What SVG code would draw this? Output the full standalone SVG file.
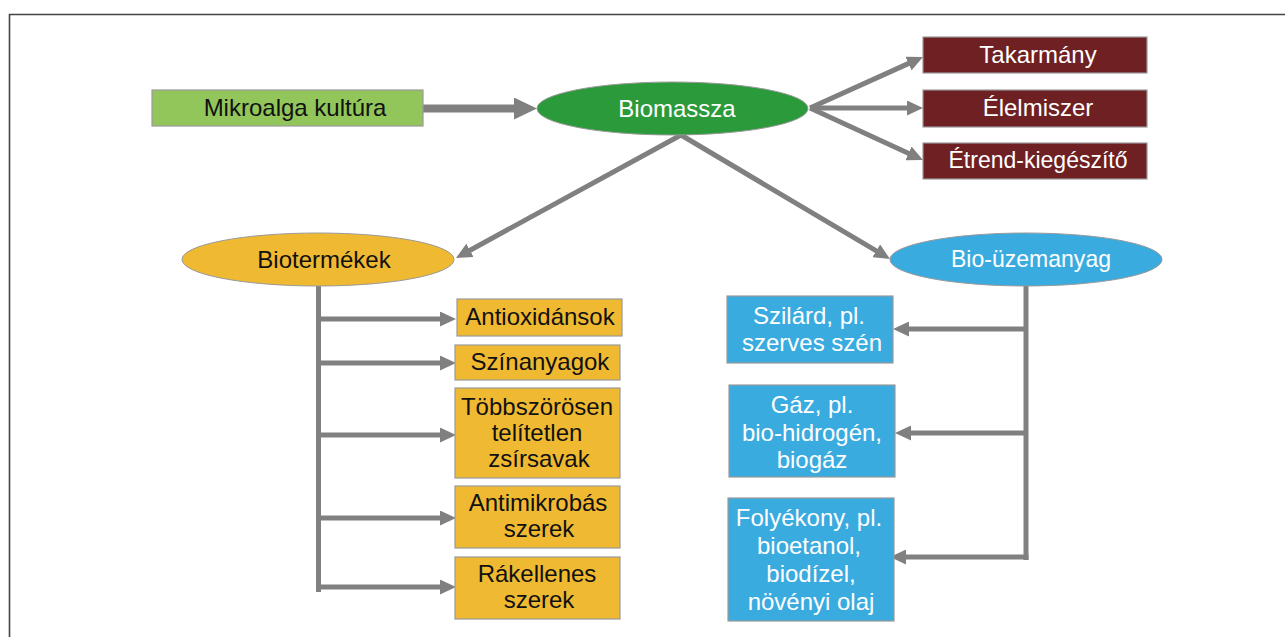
<svg xmlns="http://www.w3.org/2000/svg" width="1285" height="637" viewBox="0 0 1285 637">
<defs>
<style>
text{font-family:"Liberation Sans",Arial,sans-serif;font-size:24px;text-anchor:middle}
.dk{fill:#111}
.wh{fill:#fff}
.box{stroke:#9a9a9a;stroke-width:1.2}
.ell{stroke:#9a9a9a;stroke-width:1}
.ln{stroke:#808080;stroke-width:5;fill:none}
.thick{stroke:#808080;stroke-width:8;fill:none}
</style>
<marker id="ah" markerUnits="userSpaceOnUse" markerWidth="16" markerHeight="15" refX="4" refY="7.5" orient="auto" viewBox="0 0 16 15">
<path d="M0,0 L16,7.5 L0,15 z" fill="#808080"/>
</marker>
<marker id="ahBig" markerUnits="userSpaceOnUse" markerWidth="23" markerHeight="22" refX="6" refY="11" orient="auto" viewBox="0 0 23 22">
<path d="M0,0 L23,11 L0,22 z" fill="#808080"/>
</marker>
</defs>
<rect width="1285" height="637" fill="#fff"/>
<path d="M9.5,637 V14.5 H1285" fill="none" stroke="#444" stroke-width="1.6"/>

<g id="connectors">
<line class="thick" x1="423" y1="108.5" x2="520" y2="108.5" marker-end="url(#ahBig)"/>
<line class="ln" x1="810" y1="108" x2="912.1" y2="61.9" marker-end="url(#ah)"/>
<line class="ln" x1="810" y1="108" x2="911" y2="108" marker-end="url(#ah)"/>
<line class="ln" x1="810" y1="108" x2="912.1" y2="155" marker-end="url(#ah)"/>
<line class="ln" x1="681" y1="135" x2="466.5" y2="252.2" marker-end="url(#ah)"/>
<line class="ln" x1="681" y1="135" x2="879.7" y2="252.9" marker-end="url(#ah)"/>
<line class="ln" x1="318.5" y1="286" x2="318.5" y2="592"/>
<line class="ln" x1="318.5" y1="319" x2="444" y2="319" marker-end="url(#ah)"/>
<line class="ln" x1="318.5" y1="363" x2="444" y2="363" marker-end="url(#ah)"/>
<line class="ln" x1="318.5" y1="435" x2="444" y2="435" marker-end="url(#ah)"/>
<line class="ln" x1="318.5" y1="518" x2="444" y2="518" marker-end="url(#ah)"/>
<line class="ln" x1="316" y1="587" x2="444" y2="587" marker-end="url(#ah)"/>
<line class="ln" x1="1026" y1="286" x2="1026" y2="560"/>
<line class="ln" x1="1026" y1="329" x2="905" y2="329" marker-end="url(#ah)"/>
<line class="ln" x1="1026" y1="433" x2="907" y2="433" marker-end="url(#ah)"/>
<line class="ln" x1="1028.5" y1="557" x2="902" y2="557" marker-end="url(#ah)"/>
</g>

<g id="mikroalga">
<rect class="box" x="152" y="90" width="271" height="36" fill="#92c65a"/>
<text class="dk" x="295" y="116">Mikroalga kultúra</text>
</g>
<g id="biomassza">
<ellipse class="ell" cx="672.5" cy="108.5" rx="135.5" ry="26.5" fill="#2a9a3a"/>
<text class="wh" x="677" y="117">Biomassza</text>
</g>
<g id="takarmany">
<rect class="box" x="923" y="37" width="224" height="36" fill="#6e2023"/>
<text class="wh" x="1038" y="63">Takarmány</text>
</g>
<g id="elelmiszer">
<rect class="box" x="923" y="90" width="224" height="37" fill="#6e2023"/>
<text class="wh" x="1038" y="116">Élelmiszer</text>
</g>
<g id="etrend">
<rect class="box" x="923" y="143" width="224" height="36" fill="#6e2023"/>
<text class="wh" x="1038" y="168" textLength="179" lengthAdjust="spacingAndGlyphs">Étrend-kiegészítő</text>
</g>
<g id="biotermekek">
<ellipse class="ell" cx="318" cy="259.5" rx="136" ry="26.5" fill="#f0b932"/>
<text class="dk" x="324" y="268">Biotermékek</text>
</g>
<g id="biouzemanyag">
<ellipse class="ell" cx="1026" cy="259.5" rx="136" ry="26.5" fill="#3aabdf"/>
<text class="wh" x="1031" y="267" textLength="160" lengthAdjust="spacingAndGlyphs">Bio-üzemanyag</text>
</g>
<g id="antioxidansok">
<rect class="box" x="457" y="299" width="165" height="37" fill="#f0b932"/>
<text class="dk" x="540" y="325">Antioxidánsok</text>
</g>
<g id="szinanyagok">
<rect class="box" x="455" y="345" width="165" height="35" fill="#f0b932"/>
<text class="dk" x="540" y="370">Színanyagok</text>
</g>
<g id="tobbszorosen">
<rect class="box" x="455" y="388" width="165" height="90" fill="#f0b932"/>
<text class="dk" x="537" y="415">Többszörösen</text>
<text class="dk" x="537" y="441">telítetlen</text>
<text class="dk" x="539" y="467">zsírsavak</text>
</g>
<g id="antimikrobas">
<rect class="box" x="455" y="486" width="165" height="62" fill="#f0b932"/>
<text class="dk" x="538" y="511">Antimikrobás</text>
<text class="dk" x="539" y="537">szerek</text>
</g>
<g id="rakellenes">
<rect class="box" x="455" y="557" width="165" height="62" fill="#f0b932"/>
<text class="dk" x="537" y="582">Rákellenes</text>
<text class="dk" x="539" y="608">szerek</text>
</g>
<g id="szilard">
<rect class="box" x="727" y="296" width="166" height="67" fill="#3aabdf"/>
<text class="wh" x="809" y="324">Szilárd, pl.</text>
<text class="wh" x="812" y="351">szerves szén</text>
</g>
<g id="gaz">
<rect class="box" x="729" y="385" width="166" height="92" fill="#3aabdf"/>
<text class="wh" x="812" y="413">Gáz, pl.</text>
<text class="wh" x="812" y="441">bio-hidrogén,</text>
<text class="wh" x="812" y="468">biogáz</text>
</g>
<g id="folyekony">
<rect class="box" x="728" y="498" width="166" height="123" fill="#3aabdf"/>
<text class="wh" x="809" y="526">Folyékony, pl.</text>
<text class="wh" x="809" y="554">bioetanol,</text>
<text class="wh" x="811" y="582">biodízel,</text>
<text class="wh" x="811" y="610">növényi olaj</text>
</g>
</svg>
